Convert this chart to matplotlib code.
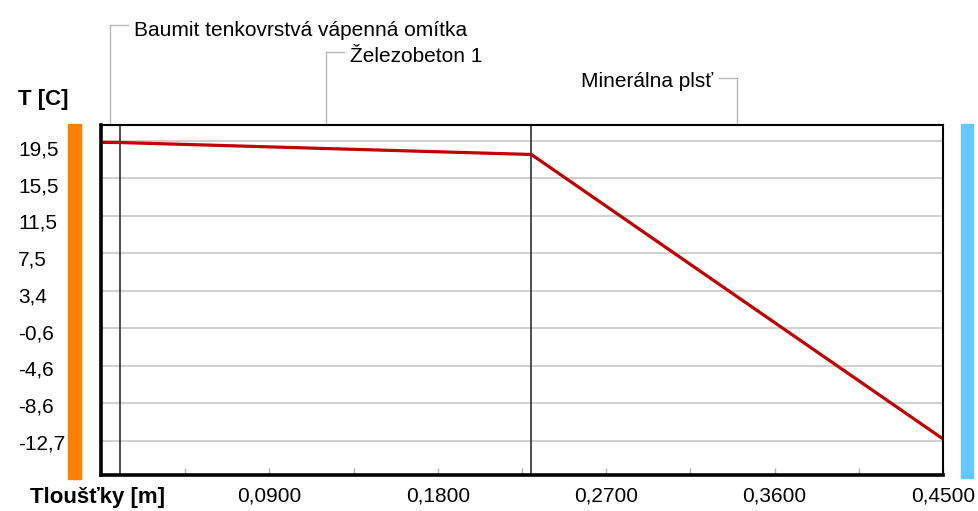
import numpy as np
import matplotlib.pyplot as plt
from matplotlib import transforms
from matplotlib.patches import Rectangle

plt.rcParams['font.family'] = ['Liberation Sans', 'DejaVu Sans']

# wall build-up, inside -> outside, thickness in m
layer_names = ['Baumit tenkovrstvá vápenná omítka', 'Železobeton 1', 'Minerálna plsť']
layer_thickness = [0.01, 0.22, 0.22]

# temperature profile through the wall [C]
profile_x = [0.0, 0.01, 0.23, 0.45]
profile_t = [20.34, 20.32, 19.01, -12.15]

# axis labels
t_labels = [19.5, 15.5, 11.5, 7.5, 3.4, -0.6, -4.6, -8.6, -12.7]
x_labels = [0.09, 0.18, 0.27, 0.36, 0.45]
x_minor = [0.045, 0.135, 0.225, 0.315, 0.405]

W, H = 979, 511
fig = plt.figure(figsize=(W / 100, H / 100), dpi=100)
fig.patch.set_facecolor('white')

# plot area in pixels: x 101..943, y 125..475
ax = fig.add_axes([101 / W, 1 - 475 / H, (943 - 101) / W, (475 - 125) / H])
ax.set_xlim(0, 0.45)
ax.set_ylim(-16.10, 22.24)

# horizontal grid
for g in np.linspace(20.49, -12.37, 9):
    ax.axhline(g, color='#c8c8c8', lw=1.2, zorder=1)

# layer boundaries
bounds = np.cumsum(layer_thickness)
for b in bounds[:-1]:
    ax.axvline(b, color='#1e1e1e', lw=1.1, zorder=2)

ax.plot(profile_x, profile_t, color='#c00000', lw=2.3, zorder=3,
        solid_joinstyle='round', solid_capstyle='butt')

# x axis: labels every 0.09, small grey ticks every 0.045
ax.set_xticks(x_labels)
ax.set_xticklabels([f'{v:.4f}'.replace('.', ',') for v in x_labels], fontsize=15)
ax.set_xticks(x_minor, minor=True)
ax.tick_params(axis='x', which='both', direction='in', length=5, width=1,
               color='#b4b4b4', pad=8)
ax.set_yticks([])

# y labels, left aligned at the figure edge
ty = transforms.blended_transform_factory(fig.transFigure, ax.transData)
for v in t_labels:
    ax.text(18 / W, v, f'{v:.1f}'.replace('.', ','), transform=ty,
            ha='left', va='center', fontsize=15)

for side in ['left', 'bottom']:
    ax.spines[side].set_linewidth(2.6)
for side in ['top', 'right']:
    ax.spines[side].set_linewidth(1.5)
for s in ax.spines.values():
    s.set_zorder(5)

fig.text(18 / W, 1 - 105 / H, 'T [C]', fontsize=16, weight='bold', va='baseline')
fig.text(30 / W, 1 - 503 / H, 'Tloušťky [m]', fontsize=16, weight='bold', va='baseline')

# inside / outside colour bars
fig.patches.append(Rectangle((68 / W, 1 - 479 / H), 13 / W, 355 / H,
                             transform=fig.transFigure, color='#ff8000'))
fig.patches.append(Rectangle((961 / W, 1 - 478 / H), 12 / W, 354 / H,
                             transform=fig.transFigure, color='#64c8ff'))

# layer name callouts above the plot
tl = transforms.blended_transform_factory(ax.transData, fig.transFigure)
px = 0.45 / (943 - 101)
lead_px = [25, 52, 78]
base_px = [36, 62, 87]
sides = [1, 1, -1]
starts = np.concatenate([[0], bounds[:-1]])
top = 1 - 125 / H
for name, x0, b, lp, bp, sd in zip(layer_names, starts, bounds, lead_px, base_px, sides):
    mid = (x0 + b) / 2
    yl = 1 - lp / H
    ax.plot([mid, mid], [top, yl], transform=tl, color='#b9b9b9', lw=1,
            clip_on=False)
    ax.plot([mid, mid + sd * 18 * px], [yl, yl], transform=tl, color='#b9b9b9',
            lw=1, clip_on=False)
    ax.text(mid + sd * 24 * px, 1 - bp / H, name, transform=tl,
            ha='left' if sd > 0 else 'right', va='baseline', fontsize=15)

fig.savefig('out.png', dpi=100)
